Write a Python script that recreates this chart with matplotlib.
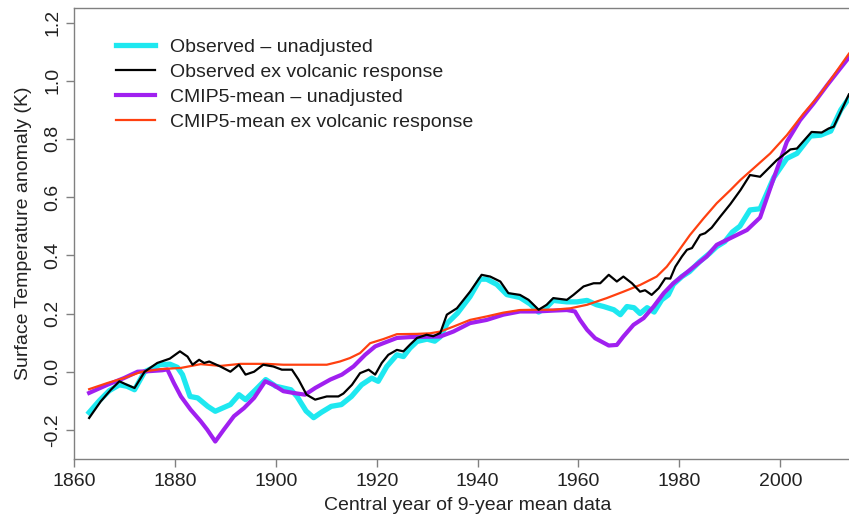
import matplotlib
matplotlib.use('Agg')
import matplotlib.pyplot as plt

plt.rcParams['font.family'] = ['Liberation Sans', 'DejaVu Sans']

# Observed - unadjusted (cyan)
obs_years = [1863, 1865, 1867, 1869, 1870.5, 1872, 1874, 1877, 1879, 1880.5,
             1881.5, 1883, 1884.5, 1886.5, 1888, 1891, 1892.7, 1894, 1896, 1898,
             1900, 1903, 1904.2, 1906, 1907.5, 1909, 1911, 1913, 1915, 1917,
             1919, 1920.3, 1922, 1924, 1925.3, 1926.6, 1928, 1930, 1931.5, 1932.6,
             1934, 1936, 1938.5, 1940.5, 1941.8, 1943.8, 1945.8, 1948.4, 1950.4, 1952.1,
             1953.7, 1955, 1957.7, 1959.7, 1961.7, 1963.6, 1965, 1967, 1968.3, 1969.6,
             1971, 1972.2, 1973.6, 1975, 1976.5, 1977.8, 1978.8, 1980.5, 1982, 1984,
             1986, 1987.4, 1989, 1990.5, 1992, 1994, 1996, 1998.7, 2001.3, 2003.3,
             2006, 2008, 2010, 2012, 2013.6]
obs_unadj = [-0.14, -0.10, -0.065, -0.045, -0.05, -0.062, 0.0, 0.024, 0.026, 0.015,
             -0.01, -0.085, -0.09, -0.119, -0.136, -0.113, -0.079, -0.096, -0.062, -0.027,
             -0.05, -0.062, -0.085, -0.135, -0.158, -0.14, -0.119, -0.113, -0.085, -0.045,
             -0.022, -0.033, 0.018, 0.058, 0.052, 0.081, 0.104, 0.112, 0.105, 0.12,
             0.167, 0.201, 0.258, 0.318, 0.318, 0.30, 0.265, 0.255, 0.233, 0.205,
             0.222, 0.245, 0.24, 0.24, 0.245, 0.23, 0.224, 0.213, 0.196, 0.224,
             0.22, 0.20, 0.22, 0.205, 0.247, 0.264, 0.30, 0.327, 0.344, 0.378,
             0.407, 0.43, 0.447, 0.48, 0.50, 0.556, 0.56, 0.667, 0.733, 0.75,
             0.81, 0.813, 0.827, 0.90, 0.94]

# Observed ex volcanic response (black)
obsx_years = [1863, 1865.3, 1867.3, 1869, 1870.5, 1872, 1874, 1876.5, 1879, 1881,
              1882.5, 1883.5, 1884.8, 1885.8, 1886.8, 1889, 1891, 1892.7, 1894, 1895.7,
              1897.5, 1899.5, 1901.2, 1903.2, 1904.5, 1906.1, 1907.8, 1910.1, 1912.4, 1913.4,
              1915.1, 1916.7, 1918.4, 1919.7, 1921, 1922.3, 1924, 1925.3, 1926.6, 1928,
              1929.9, 1931.2, 1932.6, 1933.9, 1935.9, 1938.5, 1940.8, 1942.5, 1944.5, 1946.1,
              1948.4, 1950.1, 1952.1, 1953.7, 1955, 1957.7, 1959, 1961, 1963, 1964.3,
              1966, 1967.6, 1968.9, 1970.6, 1972.2, 1973.2, 1974.5, 1975.9, 1977.2, 1978.2,
              1979.2, 1980.5, 1981.5, 1982.5, 1984.1, 1985.1, 1986.4, 1988.1, 1990.1, 1992.1,
              1994, 1996, 1999.3, 2002, 2003.3, 2006.2, 2008.2, 2009.6, 2010.6, 2013.6]
obs_exvol = [-0.159, -0.102, -0.062, -0.033, -0.045, -0.056, 0.0, 0.03, 0.045, 0.07,
             0.052, 0.024, 0.041, 0.03, 0.035, 0.018, 0.0, 0.024, -0.01, 0.0,
             0.024, 0.018, 0.007, 0.007, -0.027, -0.079, -0.096, -0.085, -0.085, -0.075,
             -0.045, -0.005, 0.007, -0.01, 0.03, 0.058, 0.075, 0.07, 0.093, 0.116,
             0.127, 0.122, 0.133, 0.196, 0.218, 0.275, 0.333, 0.327, 0.31, 0.27,
             0.264, 0.247, 0.213, 0.23, 0.253, 0.247, 0.264, 0.293, 0.304, 0.304,
             0.333, 0.31, 0.327, 0.304, 0.275, 0.28, 0.264, 0.287, 0.321, 0.32,
             0.361, 0.396, 0.419, 0.425, 0.47, 0.476, 0.495, 0.533, 0.576, 0.624,
             0.676, 0.67, 0.727, 0.764, 0.767, 0.824, 0.822, 0.836, 0.842, 0.953]

# CMIP5-mean - unadjusted (purple)
cmip_years = [1863, 1866.6, 1869.9, 1872.6, 1875, 1877.5, 1878.5, 1879.8, 1881.2, 1883.1,
              1885.1, 1886.4, 1888, 1889.7, 1891.7, 1893.7, 1895.7, 1897.9, 1899.5, 1901.5,
              1903.5, 1905.8, 1907.8, 1910.8, 1913.1, 1915.4, 1917.7, 1919.7, 1921.3, 1924,
              1926.6, 1929, 1932.6, 1935.2, 1938.5, 1941.8, 1945.1, 1948.4, 1951.7, 1955,
              1957.7, 1959.3, 1960.3, 1961.7, 1963.3, 1966, 1967.6, 1968.9, 1970.9, 1972.9,
              1974.9, 1976.9, 1978.8, 1982.1, 1985.4, 1987.4, 1989.4, 1993.4, 1996, 1998.7,
              2001.3, 2003.9, 2006.6, 2009.3, 2011.6, 2013.6]
cmip_unadj = [-0.073, -0.045, -0.022, 0.0, 0.002, 0.005, 0.008, -0.039, -0.085, -0.13,
              -0.17, -0.199, -0.24, -0.199, -0.153, -0.125, -0.09, -0.033, -0.045, -0.067,
              -0.073, -0.079, -0.056, -0.027, -0.01, 0.018, 0.058, 0.087, 0.098, 0.116,
              0.119, 0.12, 0.121, 0.138, 0.167, 0.178, 0.196, 0.207, 0.207, 0.21,
              0.212, 0.207, 0.178, 0.144, 0.115, 0.09, 0.092, 0.121, 0.161, 0.184,
              0.224, 0.27, 0.304, 0.35, 0.396, 0.436, 0.453, 0.487, 0.53, 0.665,
              0.79, 0.864, 0.922, 0.985, 1.036, 1.08]

# CMIP5-mean ex volcanic response (red)
cmipx_years = [1863, 1866.6, 1869.9, 1873.2, 1877.2, 1881.2, 1885.1, 1889.1, 1893, 1898.2,
               1901.5, 1908.1, 1910.1, 1912.7, 1914.7, 1916.7, 1918.7, 1921.3, 1924, 1928,
               1930.6, 1932.6, 1935.2, 1938.5, 1941.8, 1945.1, 1948.4, 1951.7, 1955, 1958.4,
               1961.7, 1965.6, 1968.9, 1972.2, 1975.5, 1977.5, 1979.5, 1982.1, 1984.8, 1987.4,
               1990.1, 1992.1, 1994.7, 1998, 2001.3, 2004.6, 2008, 2010.6, 2013.6]
cmip_exvol = [-0.06, -0.039, -0.022, -0.001, 0.009, 0.013, 0.026, 0.02, 0.027, 0.027,
              0.024, 0.024, 0.024, 0.035, 0.047, 0.064, 0.098, 0.112, 0.129, 0.13,
              0.132, 0.138, 0.155, 0.178, 0.19, 0.203, 0.212, 0.213, 0.213, 0.218,
              0.23, 0.253, 0.275, 0.298, 0.327, 0.361, 0.407, 0.47, 0.527, 0.579,
              0.624, 0.659, 0.699, 0.75, 0.813, 0.887, 0.956, 1.019, 1.093]

xticks = [1860, 1880, 1900, 1920, 1940, 1960, 1980, 2000]
yticks = [-0.2, 0.0, 0.2, 0.4, 0.6, 0.8, 1.0, 1.2]

fig = plt.figure(figsize=(8.49, 5.2), dpi=100)
ax = fig.add_axes([74 / 849, 61 / 520, 787 / 849, 451 / 520])

ax.plot(obs_years, obs_unadj, color='#1ee8f0', lw=3.8, label='Observed \u2013 unadjusted', zorder=2)
ax.plot(cmip_years, cmip_unadj, color='#a020f0', lw=3.0, label='CMIP5-mean \u2013 unadjusted', zorder=2.2)
ax.plot(cmipx_years, cmip_exvol, color='#ff4010', lw=1.6, label='CMIP5-mean ex volcanic response', zorder=2.4)
ax.plot(obsx_years, obs_exvol, color='black', lw=1.6, label='Observed ex volcanic response', zorder=2.6)

ax.set_xlim(1860, 2016)
ax.set_ylim(-0.3, 1.25)
ax.set_xticks(xticks)
ax.set_xticklabels([str(x) for x in xticks])
ax.set_yticks(yticks)
ax.set_yticklabels(['%.1f' % y for y in yticks], rotation=90, va='center')

for s in ax.spines.values():
    s.set_color('#808080')
    s.set_linewidth(1.0)
ax.tick_params(direction='out', length=6, width=1.0, color='#808080',
               labelsize=14, labelcolor='#222222')
ax.tick_params(axis='x', pad=4)
ax.tick_params(axis='y', pad=3)

ax.set_xlabel('Central year of 9-year mean data', fontsize=14, color='#222222', labelpad=5)
ax.set_ylabel('Surface Temperature anomaly (K)', fontsize=14, color='#222222', labelpad=9)

h, l = ax.get_legend_handles_labels()
order = [0, 3, 1, 2]
ax.legend([h[i] for i in order], [l[i] for i in order], loc='upper left',
          bbox_to_anchor=(42 / 787, 1 - 30 / 451), frameon=False, fontsize=14,
          handlelength=2.0, handletextpad=0.8, labelspacing=0.38, borderaxespad=0,
          borderpad=0, labelcolor='#222222')

fig.savefig('out.png', dpi=100)
